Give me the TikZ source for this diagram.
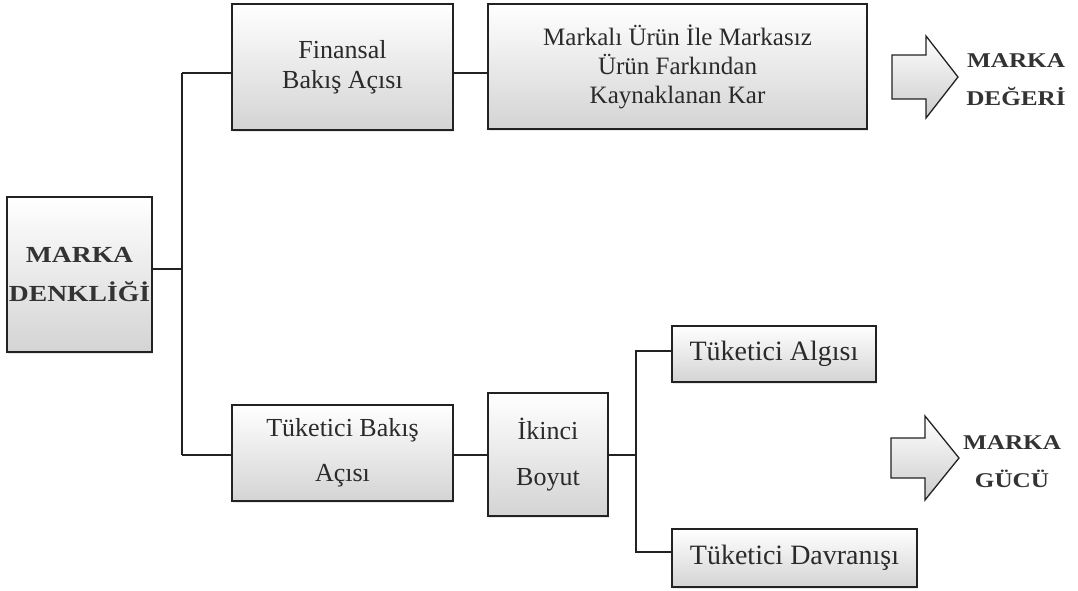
\documentclass[tikz,border=0pt]{standalone}
\usepackage{fontspec}
\setmainfont{Liberation Serif}
\newfontfamily\wideb{Liberation Serif}[FakeStretch=1.2]
\usetikzlibrary{shadows}
\definecolor{txt}{HTML}{2A2A2A}
\definecolor{btxt}{HTML}{333333}
\definecolor{edge}{HTML}{222222}
\tikzset{
  boxnode/.style={draw=edge, line width=1.6pt, rectangle, inner sep=0pt, align=center,
    top color=white, bottom color=black!17, text=txt,
    drop shadow={opacity=0.18, shadow xshift=1pt, shadow yshift=-2pt}},
  conn/.style={draw=edge, line width=1.3pt},
  bigarrow/.style={draw=edge, line width=1.3pt, top color=white, bottom color=black!20, line join=miter},
  bold label/.style={align=center, text=btxt, font=\wideb\bfseries\fontsize{21}{38}\selectfont, inner sep=0pt}
}
\begin{document}
\begin{tikzpicture}[x=1pt, y=-1pt]
\useasboundingbox (0,0) rectangle (1078,590);
\fill[white] (0,0) rectangle (1078,590);

% boxes
\node[boxnode, minimum width=145, minimum height=155, font=\wideb\bfseries\fontsize{23}{39}\selectfont, text=btxt] (denk) at (79.5,274.5) {MARKA\\DENKLİĞİ};
\node[boxnode, minimum width=221, minimum height=126, font=\fontsize{26}{30}\selectfont] (fin) at (342.5,67) {Finansal\\Bakış Açısı};
\node[boxnode, minimum width=379, minimum height=125, font=\fontsize{25}{29}\selectfont] (mark) at (677.5,66.5) {Markalı Ürün İle Markasız\\Ürün Farkından\\Kaynaklanan Kar};
\node[boxnode, minimum width=221, minimum height=96, font=\fontsize{26}{45}\selectfont] (tb) at (342.5,453) {Tüketici Bakış\\Açısı};
\node[boxnode, minimum width=120, minimum height=123, font=\fontsize{26}{46}\selectfont] (ik) at (548,454.5) {İkinci\\Boyut};
\node[boxnode, minimum width=204, minimum height=56, font=\fontsize{28}{32}\selectfont] (alg) at (774,354) {Tüketici Algısı};
\node[boxnode, minimum width=245, minimum height=58, font=\fontsize{28}{32}\selectfont] (dav) at (794.5,558) {Tüketici Davranışı};

% connector junctions
\coordinate (vt) at (182,73);
\coordinate (vb) at (182,455);
\coordinate (j2) at (636,455);
\coordinate (at) at (636,351);
\coordinate (ab) at (636,552);

\draw[conn] (vt) -- (vb);
\draw[conn] (denk.east |- 0,269) -- (vt |- 0,269);
\draw[conn] (vt) -- (vt -| fin.west);
\draw[conn] (fin.east |- vt) -- (mark.west |- vt);
\draw[conn] (vb) -- (vb -| tb.west);
\draw[conn] (tb.east |- vb) -- (ik.west |- vb);
\draw[conn] (ik.east |- j2) -- (j2);
\draw[conn] (alg.west |- at) -- (at) -- (ab) -- (ab -| dav.west);

% big arrows
\draw[bigarrow] (892,55) -- (926,55) -- (926,36) -- (958,77) -- (926,118) -- (926,99) -- (892,99) -- cycle;
\draw[bigarrow] (891,438) -- (925,438) -- (925,416) -- (959,458) -- (925,500) -- (925,478) -- (891,478) -- cycle;

\node[bold label] (deger) at (1016,80) {MARKA\\DEĞERİ};
\node[bold label] (guc) at (1012,462) {MARKA\\GÜCÜ};
\end{tikzpicture}
\end{document}
